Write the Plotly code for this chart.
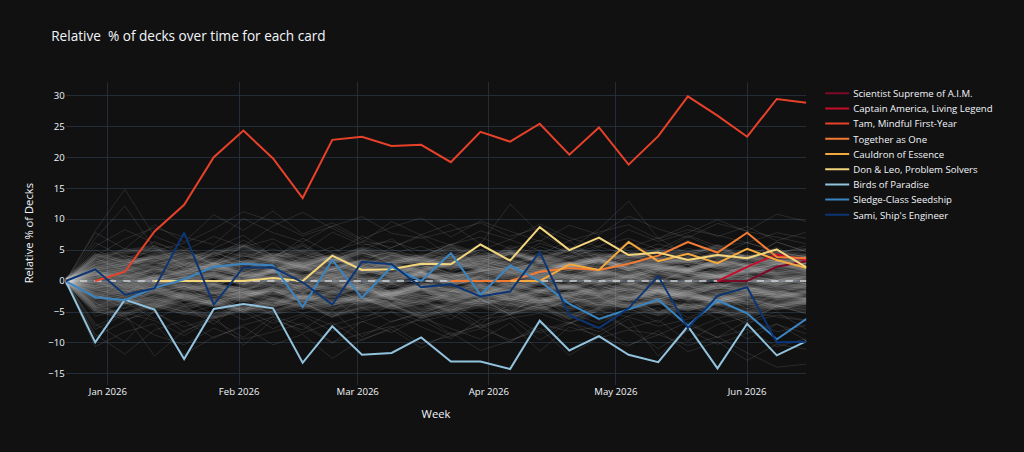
import pandas as pd
import plotly.graph_objects as go

# weekly snapshots
weeks = pd.date_range("2025-12-22", "2026-06-15", freq="7D")

# highlighted cards (relative % of decks)
scientist_supreme = [None] * 22 + [0, 0, 2.3, 3.2]
captain_america = [None] * 22 + [0, 2.3, 4.3, 3.4]
tam = [None, 0, 1.5, 8.0, 12.3, 20.0, 24.3, 19.8, 13.4, 22.8, 23.3, 21.8, 22.0,
       19.2, 24.1, 22.5, 25.4, 20.4, 24.8, 18.8, 23.4, 29.8, 26.7, 23.3, 29.4, 28.8]
together_as_one = [None] * 13 + [0, 0, 0, 1.5, 2.1, 1.8, 2.8, 4.1, 6.3, 4.6, 7.8, 3.9, 3.7]
cauldron = [None] * 15 + [0, 0, 2.7, 1.8, 6.3, 3.2, 4.4, 2.9, 5.2, 3.4, 2.1]
don_and_leo = [None, None, None, 0, 0, 0, 0, 0.5, 0, 4.1, 1.8, 1.9, 2.8,
               2.7, 5.9, 3.3, 8.7, 5.0, 7.0, 4.2, 4.6, 3.4, 4.2, 3.7, 5.1, 2.2]
birds_of_paradise = [0, -9.9, -3.0, -4.6, -12.6, -4.5, -3.7, -4.4, -13.2, -7.3, -11.9, -11.6, -9.1,
                     -13.0, -13.0, -14.2, -6.4, -11.2, -8.9, -11.9, -13.1, -7.3, -14.1, -6.9, -12.0, -9.7]
sledge_class = [0, -2.6, -3.1, -1.1, 0.3, 2.3, 2.8, 2.5, -4.2, 3.4, -2.7, 2.3, 0,
                4.5, -2.2, 2.5, 0, -3.7, -6.1, -4.6, -3.0, -7.2, -3.1, -5.2, -9.4, -6.1]
sami = [0, 1.9, -2.2, -1.2, 7.8, -3.8, 2.2, 2.2, -0.2, -3.8, 3.1, 2.7, -1.0,
        -0.5, -2.5, -1.7, 4.7, -5.5, -7.6, -4.4, 0.8, -7.6, -2.4, -1.0, -9.9, -9.8]

highlight_names = ["Scientist Supreme of A.I.M.", "Captain America, Living Legend",
                   "Tam, Mindful First-Year", "Together as One", "Cauldron of Essence",
                   "Don & Leo, Problem Solvers", "Birds of Paradise",
                   "Sledge-Class Seedship", "Sami, Ship's Engineer"]
highlight_values = [scientist_supreme, captain_america, tam, together_as_one, cauldron,
                    don_and_leo, birds_of_paradise, sledge_class, sami]
highlight_colors = ["#7d0a28", "#c80d2c", "#e8412a", "#f27b34", "#f5a83d",
                    "#f3d57c", "#92c3de", "#3a85c1", "#0c3574"]

# every other card, drawn faint in the background
N = None
other_cards = [
    [0, 3.1, 4.2, 2.8, 3.5, 5.1, 4.0, 3.2, 4.4, 2.9, 3.8, 4.6, 3.3, 2.7, 4.1, 3.6, 5.0, 3.9, 4.3, 2.8, 3.4, 4.8, 3.7, 4.2, 3.1, 3.9],
    [0, -2.4, -3.1, -1.8, -2.9, -3.6, -2.2, -3.0, -4.1, -2.5, -3.3, -2.7, -3.9, -2.1, -3.4, -2.8, -3.7, -4.2, -2.6, -3.1, -3.8, -2.4, -3.5, -2.9, -4.0, -3.2],
    [0, 1.2, 0.8, 1.9, 1.4, 0.6, 2.1, 1.5, 0.9, 1.8, 1.1, 2.4, 1.3, 0.7, 1.6, 2.2, 1.0, 1.7, 2.5, 1.2, 0.8, 1.9, 1.4, 2.3, 1.1, 1.6],
    [0, -1.1, -0.5, -1.7, -0.9, -2.0, -1.3, -0.6, -1.8, -1.0, -2.2, -1.4, -0.8, -1.6, -2.1, -0.7, -1.5, -1.9, -1.2, -0.4, -1.7, -2.3, -1.1, -1.4, -0.9, -1.8],
    [0, 5.6, 8.3, 6.1, 4.9, 7.2, 5.5, 6.8, 4.6, 7.9, 5.8, 6.4, 4.8, 5.9, 7.1, 5.2, 6.6, 4.4, 5.7, 6.9, 5.1, 7.4, 5.6, 6.2, 4.7, 5.3],
    [0, -4.8, -6.2, -5.1, -7.4, -5.9, -4.6, -6.8, -5.3, -7.1, -5.7, -4.9, -6.5, -5.4, -7.6, -6.0, -5.2, -6.9, -4.7, -5.8, -7.3, -6.1, -5.0, -6.7, -5.5, -6.3],
    [0, 8.1, 14.8, 7.2, 5.4, 3.9, 6.6, 4.1, 5.8, 3.2, 4.7, 2.9, 4.4, 3.6, 5.1, 2.7, 3.9, 4.8, 3.3, 2.6, 4.2, 3.0, 3.7, 2.4, 3.5, 2.8],
    [0, -8.6, -11.8, -7.9, -6.4, -9.2, -7.1, -5.8, -8.4, -6.7, -9.6, -7.5, -6.2, -8.8, -7.0, -9.9, -6.9, -8.1, -7.4, -10.3, -8.7, -6.6, -9.1, -7.8, -10.6, -9.3],
    [0, 6.9, 12.1, 5.3, 2.6, 4.3, 1.9, 3.4, 2.2, 4.0, 1.7, 3.1, 2.5, 1.4, 3.3, 2.0, 2.9, 1.6, 3.5, 2.3, 1.8, 2.7, 1.5, 3.0, 2.1, 2.4],
    [0, 2.2, 3.4, 4.9, 6.1, 8.4, 11.2, 9.6, 7.3, 8.8, 10.4, 7.7, 6.9, 8.1, 9.4, 7.2, 8.6, 6.5, 7.9, 9.1, 6.8, 8.3, 7.4, 6.2, 7.8, 6.9],
    [0, -0.4, 0.3, -0.2, 0.6, -0.5, 0.2, -0.7, 0.4, -0.1, 0.5, -0.3, 0.1, -0.6, 0.3, -0.4, 0.7, -0.2, 0.4, -0.5, 0.2, -0.3, 0.6, -0.1, 0.3, -0.4],
    [0, -3.5, -5.9, -8.7, -10.3, -7.6, -9.4, -8.2, -6.8, -9.9, -8.5, -7.3, -10.1, -8.9, -7.7, -9.5, -8.0, -6.6, -9.2, -7.9, -8.6, -10.4, -9.0, -11.6, -13.9, -13.4],
    [0, 4.4, 2.9, 3.8, 5.2, 2.6, 4.1, 3.3, 5.7, 2.8, 4.5, 3.6, 2.4, 4.9, 3.1, 5.4, 3.9, 2.7, 4.6, 3.2, 5.0, 3.5, 4.2, 2.9, 4.7, 3.8],
    [0, -5.7, -4.3, -3.6, -4.9, -2.8, -4.1, -3.4, -5.2, -3.9, -2.6, -4.5, -3.1, -5.0, -3.7, -2.9, -4.4, -3.3, -5.5, -4.0, -3.2, -4.8, -3.6, -2.7, -4.2, -3.5],
    [0, 0.9, 2.6, 1.3, 3.2, 1.8, 0.7, 2.9, 1.5, 3.6, 2.0, 1.1, 2.7, 3.4, 1.6, 2.3, 0.8, 3.1, 1.9, 2.5, 1.2, 3.3, 2.1, 1.4, 2.8, 1.7],
    [0, -1.9, -3.7, -2.4, -1.2, -3.0, -2.6, -1.5, -3.4, -2.0, -1.3, -2.8, -3.6, -1.7, -2.3, -3.2, -1.4, -2.5, -3.9, -1.8, -2.9, -1.6, -3.3, -2.2, -1.5, -2.7],
    [0, 7.8, 5.2, 9.1, 6.3, 10.7, 8.2, 11.3, 7.6, 9.4, 6.8, 8.7, 10.2, 7.1, 9.7, 8.0, 6.4, 9.0, 7.5, 10.5, 8.4, 7.0, 9.3, 8.1, 10.8, 9.6],
    [0, -6.9, -9.8, -4.7, -8.3, -5.6, -10.4, -6.2, -7.9, -4.8, -9.0, -6.5, -5.3, -8.6, -7.2, -5.9, -9.5, -6.8, -4.5, -7.7, -10.9, -8.0, -6.1, -9.4, -7.0, -8.5],
    [0, 3.7, 1.6, 2.4, 0.9, 3.0, 1.3, 2.7, 0.5, 1.9, 3.4, 1.1, 2.2, 0.8, 2.9, 1.5, 0.6, 2.5, 1.8, 3.2, 1.0, 2.1, 0.7, 2.6, 1.4, 2.0],
    [0, -2.8, -1.4, -3.3, -0.8, -2.5, -1.9, -3.8, -1.1, -2.7, -0.6, -3.1, -2.0, -1.3, -3.5, -0.9, -2.4, -1.7, -3.0, -1.2, -2.6, -0.7, -2.1, -3.4, -1.6, -2.3],
    [N, N, N, N, N, N, N, N, 0, 4.2, 7.3, 5.1, 3.8, 6.0, 4.5, 3.2, 5.6, 4.0, 6.7, 4.9, 3.6, 5.3, 4.1, 6.2, 4.8, 3.9],
    [N, N, N, N, N, N, N, N, N, N, N, N, N, 0, -2.9, -5.4, -3.7, -6.1, -4.3, -2.8, -5.0, -3.5, -4.7, -6.3, -4.0, -5.2],
    [0, 2.8, 5.3, 3.9, 2.1, 4.6, 3.0, 1.7, 3.8, 5.5, 2.4, 4.2, 3.1, 1.9, 4.8, 3.4, 2.2, 4.0, 5.1, 2.9, 3.6, 1.8, 4.4, 3.2, 2.6, 3.9],
    [0, -4.1, -2.3, -5.0, -3.2, -1.9, -4.6, -2.7, -3.9, -1.6, -4.3, -2.9, -5.3, -3.4, -2.1, -4.8, -3.0, -1.8, -4.0, -2.5, -5.1, -3.6, -2.2, -4.5, -3.1, -2.8],
    [0, 1.5, -0.6, 2.3, 0.4, -1.2, 1.8, 0.2, -0.9, 2.0, 0.7, -0.3, 1.4, -1.0, 0.9, 2.2, -0.5, 1.1, 0.3, -0.8, 1.7, 0.5, -1.3, 1.0, 0.1, 1.3],
    [0, -0.8, 1.0, -1.5, 0.3, -0.6, -1.9, 0.8, -0.4, -1.2, 0.5, -2.0, -0.7, 0.6, -1.4, -0.2, -1.7, 0.4, -0.9, -1.6, 0.2, -1.1, -0.3, -1.8, 0.7, -0.5],
    [0, 5.0, 3.1, 6.4, 4.2, 2.7, 5.8, 3.6, 6.9, 4.5, 3.0, 5.4, 7.2, 4.0, 5.9, 3.4, 6.1, 4.7, 2.9, 5.6, 4.1, 6.6, 3.8, 5.2, 4.4, 5.7],
    [0, -7.3, -5.1, -6.4, -8.8, -6.0, -4.9, -7.7, -5.6, -8.1, -6.6, -5.0, -7.4, -9.3, -6.2, -5.5, -8.4, -6.9, -5.3, -7.6, -6.3, -9.7, -7.0, -5.8, -8.2, -7.1],
    [0, 0.5, 1.7, 3.1, 4.6, 2.8, 3.9, 5.2, 3.5, 4.8, 6.3, 4.4, 5.6, 3.8, 5.0, 6.7, 4.9, 3.6, 5.5, 4.3, 6.0, 4.7, 5.3, 3.9, 4.6, 5.1],
    [0, -1.3, -2.6, -4.0, -5.4, -3.9, -6.3, -4.8, -3.5, -5.7, -4.2, -6.6, -5.0, -3.8, -5.9, -4.5, -3.3, -5.2, -6.8, -4.6, -5.5, -3.7, -6.0, -4.9, -5.8, -6.4],
    [N, N, N, N, 0, 2.9, 5.6, 8.9, 11.1, 8.5, 6.2, 9.6, 7.4, 5.8, 8.1, 6.7, 9.2, 7.0, 5.5, 8.3, 6.4, 7.8, 9.9, 8.0, 7.1, 6.0],
    [0, 4.0, 6.8, 8.6, 7.1, 5.9, 10.1, 7.8, 6.3, 8.9, 6.6, 5.4, 7.5, 9.2, 6.0, 12.4, 7.7, 5.1, 8.4, 12.9, 6.9, 9.0, 7.2, 8.8, 6.5, 7.9],
    [0, -10.6, -8.2, -6.9, -11.9, -9.0, -7.4, -10.3, -8.6, -12.5, -9.4, -7.8, -10.8, -8.3, -11.2, -9.7, -7.6, -12.0, -9.1, -10.5, -8.0, -11.4, -9.8, -12.8, -10.2, -11.0],
    [0, 2.0, -1.1, 0.6, 2.6, -0.4, 1.3, 3.0, 0.1, 1.9, -0.7, 2.4, 0.8, -0.2, 1.6, 2.8, 0.3, -0.9, 1.2, 2.3, -0.1, 1.7, 0.9, 2.5, -0.5, 1.0],
    [0, -3.0, 0.4, -2.1, -0.8, -3.5, -1.4, 0.2, -2.7, -1.0, -3.3, -0.3, -2.4, -1.7, 0.1, -2.9, -1.2, -3.7, -0.6, -2.2, -1.5, -3.1, -0.4, -2.6, -1.9, -0.9],
    [N, N, N, N, N, N, N, N, N, N, N, N, N, N, N, N, N, 0, 3.3, 6.0, 4.4, 7.2, 5.1, 3.9, 6.3, 4.7],
    [N, N, N, N, N, N, N, N, N, N, 0, -3.8, -6.0, -4.4, -7.5, -5.3, -3.9, -6.7, -8.2, -5.6, -4.3, -7.0, -9.1, -6.4, -5.0, -7.8],
    [0, 6.2, 3.8, 4.9, 2.5, 5.3, 7.4, 4.0, 6.1, 3.3, 5.0, 6.8, 3.7, 4.6, 2.8, 5.7, 4.3, 6.5, 3.2, 5.4, 7.0, 4.1, 5.8, 3.5, 6.3, 4.8],
    [0, -5.2, -3.4, -6.1, -4.0, -7.0, -3.1, -5.5, -4.4, -2.9, -6.2, -3.8, -5.7, -4.1, -6.9, -3.6, -5.0, -2.8, -6.4, -4.6, -3.3, -5.9, -4.2, -7.1, -3.9, -5.3],
    [0, 1.0, 2.1, 0.4, 1.6, 2.9, 0.8, 1.4, 2.5, 0.2, 1.8, 0.6, 2.7, 1.2, 0.5, 2.0, 1.5, 0.9, 2.3, 0.3, 1.9, 2.6, 0.7, 1.3, 2.2, 1.1],
    [0, -0.2, -1.6, -0.9, -2.3, -0.5, -1.2, -2.8, -0.7, -1.9, -1.0, -2.5, -0.3, -1.5, -2.2, -0.8, -1.8, -2.6, -0.4, -1.3, -2.0, -0.6, -2.7, -1.1, -1.7, -0.9],
    [0, 3.5, 2.4, 5.8, 1.9, 4.7, 3.0, 6.2, 2.3, 4.1, 5.3, 2.6, 3.9, 5.9, 2.0, 4.5, 3.2, 5.1, 2.7, 6.5, 3.6, 2.1, 4.9, 3.3, 5.5, 2.9],
    [0, -2.1, -4.5, -1.3, -3.8, -2.4, -5.0, -1.6, -3.2, -4.7, -2.0, -3.6, -1.1, -4.2, -2.9, -5.4, -1.8, -3.4, -2.5, -4.9, -1.5, -3.9, -2.3, -4.4, -1.9, -3.0],
    [0, 0.3, -2.2, 1.1, -1.4, 0.7, -0.6, 1.8, -1.9, 0.4, 1.3, -1.1, 0.9, -2.4, 0.1, 1.5, -0.8, 0.6, -1.6, 1.0, -0.3, 1.9, -1.2, 0.5, -0.7, 0.8],
    [0, -9.0, -6.5, -4.2, -3.1, -5.3, -2.6, -4.0, -3.4, -5.9, -2.8, -4.6, -3.7, -6.2, -3.0, -4.9, -2.5, -5.6, -3.8, -4.3, -6.7, -3.2, -5.1, -2.9, -4.7, -3.6],
    [0, 2.6, 4.1, 3.2, 1.5, 3.7, 2.3, 4.5, 2.9, 1.8, 3.4, 4.8, 2.1, 3.9, 2.7, 1.6, 4.3, 3.0, 2.2, 3.8, 4.6, 1.9, 3.5, 2.4, 4.0, 3.1],
    [N, N, N, N, N, N, N, N, N, N, N, N, N, N, N, N, N, N, N, N, N, 0, 2.4, 4.6, 3.1, 5.2],
    [0, -7.8, -5.4, -12.1, -8.0, -6.3, -9.1, -5.7, -7.2, -10.0, -6.5, -8.3, -5.9, -7.6, -9.4, -6.8, -11.3, -7.4, -8.8, -6.1, -12.1, -7.9, -10.2, -8.4, -6.9, -9.6],
]

# the dense core near zero, where most cards sit
core_cards = [
    [0, 1.8, 2.5, 1.2, 2.9, 2.1, 3.3, 1.6, 2.7, 1.9, 3.1, 2.4, 1.5, 2.8, 2.0, 3.4, 1.7, 2.6, 1.3, 3.0, 2.2, 1.8, 2.9, 2.3, 1.6, 2.5],
    [0, -1.5, -2.2, -0.9, -2.6, -1.8, -3.0, -1.2, -2.4, -1.6, -2.9, -2.0, -1.1, -2.7, -1.4, -3.2, -1.9, -2.3, -1.0, -2.8, -1.7, -2.1, -3.1, -1.3, -2.5, -1.8],
    [0, 0.6, 1.4, 0.2, 1.0, -0.3, 0.8, 1.5, 0.1, 1.2, 0.4, -0.2, 1.1, 0.7, 1.6, 0.3, 0.9, -0.1, 1.3, 0.5, 1.7, 0.2, 1.0, 0.6, -0.4, 0.8],
    [0, -0.7, 0.2, -1.3, -0.4, -1.9, -0.9, 0.1, -1.5, -0.6, -1.1, -2.0, -0.3, -1.4, -0.8, -1.7, -0.2, -1.2, -2.1, -0.5, -1.0, -1.6, -0.7, -1.3, -0.1, -0.9],
    [0, 2.7, 3.6, 2.0, 3.9, 2.9, 1.8, 3.4, 2.5, 4.0, 2.2, 3.1, 3.8, 2.3, 3.3, 2.6, 4.1, 2.8, 3.5, 2.1, 3.7, 3.0, 2.4, 3.9, 2.7, 3.2],
    [0, -3.3, -2.5, -3.9, -2.0, -3.6, -2.8, -4.0, -2.3, -3.4, -2.7, -3.8, -2.2, -3.0, -3.7, -2.4, -3.5, -2.9, -4.1, -2.6, -3.2, -2.1, -3.6, -2.8, -3.9, -3.0],
    [0, 0.2, -0.9, 0.7, -0.5, 1.1, -0.2, 0.5, -1.0, 0.9, -0.6, 0.3, 1.2, -0.4, 0.6, -0.8, 0.4, 1.0, -0.3, 0.8, -0.7, 0.1, 0.9, -0.5, 0.4, -0.1],
    [0, 1.3, 0.4, 2.0, 1.1, 2.5, 0.9, 1.7, 2.3, 0.6, 1.9, 1.2, 2.6, 0.8, 1.5, 2.1, 1.0, 2.4, 1.4, 0.7, 2.2, 1.6, 0.9, 2.0, 1.3, 1.8],
    [0, -2.0, -1.0, -2.7, -1.6, -0.7, -2.3, -1.3, -2.9, -1.8, -0.9, -2.5, -1.5, -2.1, -1.1, -2.8, -1.7, -0.8, -2.4, -1.4, -2.6, -1.2, -2.0, -0.9, -2.3, -1.6],
    [0, 3.2, 2.2, 4.3, 3.0, 2.6, 4.5, 3.4, 2.8, 3.9, 2.4, 4.1, 3.1, 3.7, 2.7, 4.4, 3.3, 2.5, 3.8, 4.2, 2.9, 3.5, 4.0, 2.6, 3.6, 3.0],
    [0, -3.9, -3.1, -4.4, -2.6, -3.8, -4.6, -3.0, -4.2, -3.5, -2.8, -4.0, -3.3, -4.7, -2.9, -3.6, -4.3, -3.2, -2.7, -4.1, -3.4, -4.5, -3.0, -3.7, -4.2, -3.3],
    [0, 0.9, 1.9, 0.5, 1.5, 2.2, 1.0, 0.3, 1.8, 1.2, 2.4, 0.7, 1.4, 0.2, 1.9, 1.1, 2.3, 0.6, 1.6, 0.9, 2.0, 1.3, 0.4, 1.7, 1.0, 1.5],
    [0, -0.3, -1.2, -0.6, 0.4, -0.9, -1.5, -0.2, -0.8, 0.3, -1.3, -0.5, -1.0, 0.2, -0.7, -1.4, -0.1, -1.1, 0.5, -0.6, -1.2, -0.3, -0.9, 0.1, -1.0, -0.4],
    [0, 2.3, 1.5, 3.0, 1.9, 2.6, 1.2, 2.8, 2.0, 3.3, 1.6, 2.4, 1.8, 3.1, 2.2, 1.4, 2.9, 2.1, 3.2, 1.7, 2.5, 1.9, 2.7, 1.3, 2.8, 2.2],
    [0, -2.6, -1.8, -3.4, -2.2, -2.9, -1.6, -3.1, -2.4, -3.6, -1.9, -2.7, -3.3, -2.0, -2.8, -1.7, -3.2, -2.5, -3.5, -2.1, -2.9, -1.8, -3.0, -2.3, -2.6, -3.4],
    [0, 1.6, 0.9, -0.2, 0.7, 1.4, 0.3, 1.9, 0.8, 0.0, 1.2, 1.8, 0.5, 1.1, -0.3, 0.9, 1.5, 0.4, 1.0, 1.7, 0.2, 1.3, 0.6, 1.9, 0.8, 0.3],
    [0, -1.2, -0.4, -1.9, -0.8, -1.5, -2.4, -0.9, -1.7, -0.3, -1.3, -2.1, -1.0, -1.6, -0.6, -2.2, -1.4, -0.7, -1.8, -1.1, -2.0, -0.5, -1.5, -1.9, -0.8, -1.2],
    [0, 4.1, 3.0, 3.6, 4.6, 3.3, 2.8, 4.2, 3.7, 3.1, 4.5, 3.4, 2.9, 4.0, 3.5, 4.7, 3.2, 3.9, 2.7, 4.3, 3.6, 3.0, 4.4, 3.8, 3.1, 4.0],
    [0, -4.4, -3.6, -2.9, -4.1, -3.3, -4.8, -3.7, -2.8, -4.3, -3.5, -3.0, -4.6, -3.8, -3.2, -4.0, -2.7, -4.5, -3.4, -3.9, -3.1, -4.2, -3.6, -4.9, -3.3, -3.8],
    [0, 0.1, 0.8, -0.5, 0.3, 0.9, -0.4, 0.6, -0.1, 0.7, -0.6, 0.4, 1.0, -0.2, 0.5, -0.7, 0.2, 0.8, -0.3, 0.6, 0.0, -0.5, 0.7, 0.3, -0.2, 0.4],
    [N, N, N, N, N, N, 0, 1.9, 3.2, 2.4, 1.6, 2.9, 3.5, 2.1, 2.7, 1.8, 3.0, 2.3, 3.6, 2.0, 2.8, 1.7, 3.1, 2.5, 2.2, 2.9],
    [N, N, N, N, N, N, N, N, N, 0, -1.7, -2.6, -1.2, -2.9, -2.0, -1.5, -3.1, -2.3, -1.8, -2.7, -1.4, -2.5, -3.0, -1.9, -2.2, -2.8],
    [N, N, N, N, N, N, N, N, N, N, N, N, N, N, N, 0, 1.4, 2.7, 1.9, 3.3, 2.2, 1.6, 2.9, 2.4, 3.1, 1.8],
    [N, N, N, N, N, N, N, N, N, N, N, N, N, N, N, N, N, N, N, 0, -1.8, -3.0, -2.1, -3.5, -2.6, -1.9],
    [0, 2.0, 2.9, 3.7, 2.5, 1.6, 2.8, 3.5, 2.2, 1.9, 3.3, 2.6, 1.7, 3.0, 3.8, 2.4, 1.8, 2.7, 3.4, 2.1, 2.9, 3.6, 2.3, 1.5, 2.8, 3.2],
    [0, -2.3, -3.2, -1.5, -2.8, -3.7, -2.1, -1.6, -3.0, -2.5, -3.5, -1.8, -2.6, -3.3, -2.0, -2.9, -3.6, -1.9, -2.4, -3.1, -1.7, -2.7, -3.4, -2.2, -1.6, -2.9],
    [0, 1.1, -0.4, 0.5, 1.7, 0.9, -0.1, 1.3, 0.6, 1.9, 0.2, 1.0, 1.5, -0.3, 0.8, 1.4, 0.4, 1.8, 0.7, -0.2, 1.2, 0.5, 1.6, 0.9, 0.1, 1.1],
    [0, -0.9, -1.8, 0.1, -1.1, -0.5, -1.6, -2.2, -0.6, -1.4, 0.0, -1.9, -0.8, -1.2, -2.3, -0.4, -1.5, -1.0, -0.2, -1.7, -1.3, -2.0, -0.7, -1.1, -1.8, -0.6],
    [0, 3.8, 4.7, 5.3, 3.6, 4.4, 5.6, 3.9, 4.8, 3.4, 5.1, 4.2, 3.7, 5.4, 4.0, 4.6, 3.5, 5.2, 4.1, 3.8, 4.9, 4.3, 5.5, 3.6, 4.5, 4.0],
    [0, -4.6, -5.3, -3.8, -4.9, -5.7, -4.2, -5.0, -3.6, -5.4, -4.4, -4.0, -5.6, -4.7, -3.9, -5.1, -4.3, -5.8, -4.5, -3.7, -5.2, -4.1, -4.8, -5.5, -4.0, -4.6],
]

fig = go.Figure()

# wide, faint strokes give the haze of the crowded middle
for vals in core_cards:
    fig.add_trace(go.Scatter(
        x=weeks, y=vals, mode="lines",
        line=dict(color="rgba(215,215,215,0.12)", width=7),
        hoverinfo="skip", showlegend=False,
    ))

for vals in other_cards + core_cards:
    fig.add_trace(go.Scatter(
        x=weeks, y=vals, mode="lines",
        line=dict(color="rgba(210,210,210,0.17)", width=1),
        hoverinfo="skip", showlegend=False,
    ))

# zero reference
fig.add_trace(go.Scatter(
    x=[weeks[0], weeks[-1]], y=[0, 0], mode="lines",
    line=dict(color="#d0d0d0", width=2, dash="dash"),
    hoverinfo="skip", showlegend=False,
))

for name, vals, color in zip(highlight_names, highlight_values, highlight_colors):
    fig.add_trace(go.Scatter(
        x=weeks, y=vals, mode="lines", name=name,
        line=dict(color=color, width=2.5),
    ))

fig.update_layout(
    template="plotly_dark",
    title="Relative  % of decks over time for each card",
    width=1280,
    height=565,
    margin=dict(l=82, r=272, t=102, b=84),
    xaxis=dict(title="Week", range=[weeks[0], weeks[-1]], dtick="M1", tickformat="%b %Y"),
    yaxis=dict(title="Relative % of Decks", range=[-16.75, 32.2], dtick=5),
)

# the figure was laid out at 1280 wide, shown at 80% in the page
shrink = (
    "document.documentElement.style.overflow='hidden';"
    "document.body.style.margin='0';"
    "document.body.style.background='#111111';"
    "var gd=document.getElementById('{plot_id}');"
    "gd.style.transform='scale(0.8)';"
    "gd.style.transformOrigin='0 0';"
)

fig.write_html("out.html", post_script=shrink, config={"displayModeBar": False})
